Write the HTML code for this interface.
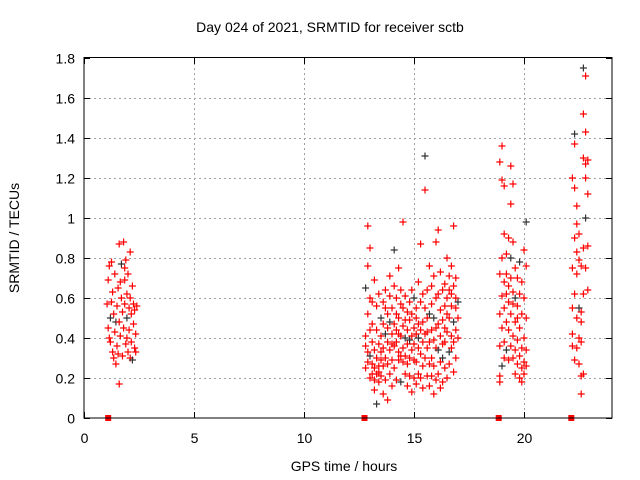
<!DOCTYPE html>
<html><head><meta charset="utf-8"><style>
html,body{margin:0;padding:0;background:#fff;}
svg{display:block;font-family:"Liberation Sans",sans-serif;}
</style></head><body>
<svg id="chart" width="640" height="480" viewBox="0 0 640 480" xmlns="http://www.w3.org/2000/svg">
<rect width="640" height="480" fill="#fff"/>
<text x="330" y="32" font-size="14" text-anchor="middle">Day 024 of 2021, SRMTID for receiver sctb</text>
<text x="344" y="471" font-size="14" text-anchor="middle">GPS time / hours</text>
<text transform="translate(19,238) rotate(-90)" font-size="14" text-anchor="middle">SRMTID / TECUs</text>
<g id="grid"></g>
<g id="axes"></g>
<g id="marks"></g>
<rect x="84" y="57.5" width="528" height="360.5" fill="none" stroke="#000" stroke-width="1"/>
</svg>
<script>
const xTicks = [0, 5, 10, 15, 20];
const xTickLabels = ["0", "5", "10", "15", "20"];
const yTicks = [0, 0.2, 0.4, 0.6, 0.8, 1, 1.2, 1.4, 1.6, 1.8];
const yTickLabels = ["0", "0.2", "0.4", "0.6", "0.8", "1", "1.2", "1.4", "1.6", "1.8"];
const zeroTimes = [1.1, 12.75, 18.85, 22.15];
const colTimes = [1.05,1.1,1.15,1.2,1.25,1.3,1.35,1.4,1.45,1.5,1.55,1.6,1.65,1.7,1.75,1.8,1.85,1.9,1.95,2.0,2.05,2.1,2.15,2.2,2.25,2.3,2.35,2.4,
12.8,12.9,13.0,13.1,13.2,13.3,13.4,13.5,13.6,13.7,13.8,13.9,14.0,14.1,14.2,14.3,14.4,14.5,14.6,14.7,14.8,14.9,15.0,15.1,15.2,15.3,15.4,15.5,15.6,15.7,15.8,15.9,16.0,16.1,16.2,16.3,16.4,16.5,16.6,16.7,16.8,16.9,17.0,
18.9,19.0,19.1,19.2,19.3,19.4,19.5,19.6,19.7,19.8,19.9,20.0,20.1,
22.2,22.3,22.4,22.5,22.6,22.7,22.8,22.9];
const colValues = [
[0.57],[0.45,0.69],[0.76,0.4],[0.5,0.38],[0.78,0.58],[0.33,0.63],[0.3,0.52],[0.43,0.72],[0.27,0.48],[0.56,0.36],[0.65,0.32],[0.17,0.87,0.48],[0.41,0.68],[0.6,0.77],[0.31,0.53],[0.88,0.45],[0.69,0.57,0.75],[0.37,0.79],[0.62,0.5,0.4],[0.33,0.72],[0.55,0.44],[0.83,0.6,0.3],[0.38,0.52],[0.29,0.66],[0.47,0.57],[0.35,0.54],[0.42,0.33],[0.56],
[0.25,0.41,0.65,0.36],[0.96,0.52,0.33,0.28,0.76],[0.85,0.44,0.2,0.6,0.31],[0.22,0.38,0.58,0.27,0.47],[0.14,0.25,0.34,0.69,0.19],[0.07,0.3,0.22,0.44,0.56],[0.18,0.26,0.37,0.62,0.23],[0.29,0.5,0.21,0.41,0.33],[0.12,0.26,0.47,0.58,0.35],[0.3,0.55,0.42,0.19,0.64],[0.09,0.38,0.27,0.52,0.45],[0.22,0.61,0.34,0.48,0.71],[0.16,0.42,0.29,0.55,0.37],[0.25,0.66,0.47,0.36,0.84],[0.38,0.52,0.19,0.44,0.6],[0.29,0.42,0.75,0.33,0.5],[0.18,0.57,0.41,0.64,0.31],[0.28,0.46,0.35,0.98,0.55],[0.22,0.4,0.31,0.61,0.49],[0.16,0.37,0.53,0.44,0.27],[0.3,0.49,0.39,0.58,0.21],[0.13,0.41,0.52,0.34,0.64],[0.2,0.45,0.29,0.6,0.37],[0.28,0.5,0.17,0.42,0.55],[0.35,0.47,0.22,0.68,0.4],[0.2,0.32,0.58,0.87,0.44],[0.26,0.48,0.38,0.62,0.15],[1.31,1.14,0.55,0.3,0.42],[0.21,0.43,0.64,0.35,0.5],[0.16,0.52,0.38,0.76,0.27],[0.3,0.44,0.57,0.21,0.66],[0.12,0.39,0.5,0.71,0.26],[0.35,0.6,0.45,0.88,0.19],[0.22,0.47,0.94,0.34,0.62],[0.28,0.54,0.41,0.73,0.15],[0.18,0.37,0.64,0.49,0.3],[0.45,0.67,0.25,0.56,0.38],[0.2,0.6,0.8,0.43,0.52],[0.33,0.71,0.5,0.64,0.27],[0.41,0.56,0.76,0.35,0.62],[0.23,0.48,0.96,0.66,0.38],[0.3,0.55,0.7,0.44,0.6],[0.5,0.4,0.58],
[0.18,0.36,0.72,1.28,0.52,0.21],[1.36,1.19,0.61,0.45,0.26,0.8],[0.55,0.68,0.38,0.92,0.3,1.16],[0.62,0.48,0.82,0.34,0.72],[0.58,0.44,0.9,0.29,0.66],[1.26,0.7,0.52,0.36,0.8,1.07],[0.63,0.41,0.88,0.3,0.57,1.17],[0.48,0.75,0.34,0.6,0.22],[0.39,0.56,0.7,0.27,0.5],[0.45,0.31,0.62,0.2,0.78],[0.35,0.52,0.25,0.68,0.18],[0.28,0.4,0.84,0.22,0.6],[0.98,0.34,0.5,0.26,0.76],
[0.36,0.55,0.75,1.2,0.42],[1.37,1.42,0.29,0.9,0.62,1.15],[0.97,0.72,0.5,1.06,0.35,0.83],[0.55,0.79,0.4,0.92,0.27],[0.21,0.48,0.76,0.12,0.53,0.38],[1.75,1.52,1.3,0.85,0.62,0.22],[1.71,1.43,1.27,1.2,0.75,1.0],[1.29,0.64,0.86,1.12]];

const NS = "http://www.w3.org/2000/svg";
const X0 = 84, X1 = 612, Y0 = 418, Y1 = 58;
function xs(v){ return X0 + (v/24)*(X1-X0); }
function ys(v){ return Y0 - (v/1.8)*(Y0-Y1); }
function mk(tag, attrs, parent){ const e=document.createElementNS(NS,tag); for(const k in attrs) e.setAttribute(k,attrs[k]); parent.appendChild(e); return e; }
const grid=document.getElementById('grid'), axes=document.getElementById('axes'), marks=document.getElementById('marks');

yTicks.forEach((t,i)=>{
  const y=Math.round(ys(t))+0.5;
  if(i>0 && i<yTicks.length-1){ const g=mk('line',{x1:X0,x2:X1,y1:y,y2:y,stroke:'#a0a0a0','stroke-dasharray':'2,3'},grid);
      }
  mk('line',{x1:X0,x2:X0+6,y1:y,y2:y,stroke:'#000'},axes);
  mk('line',{x1:X1-6,x2:X1,y1:y,y2:y,stroke:'#000'},axes);
  const tx=mk('text',{x:X0-9,y:y+5,'font-size':'14','text-anchor':'end'},axes);
  
  
  tx.textContent=yTickLabels[i];
});
xTicks.forEach((t,i)=>{
  const x=Math.round(xs(t))+0.5;
  if(i>0){ const g=mk('line',{x1:x,x2:x,y1:Y1,y2:Y0,stroke:'#a0a0a0','stroke-dasharray':'2,3'},grid);
      }
  mk('line',{x1:x,x2:x,y1:Y0,y2:Y0-6,stroke:'#000'},axes);
  mk('line',{x1:x,x2:x,y1:Y1,y2:Y1+6,stroke:'#000'},axes);
  const tx=mk('text',{x:x,y:443,'font-size':'14','text-anchor':'middle'},axes);
  
  
  tx.textContent=xTickLabels[i];
});

let n=0;
colTimes.forEach((t,ci)=>{
  colValues[ci].forEach(v=>{
    const x=xs(t), y=ys(v);
    const col = (n%11===5) ? '#333' : '#ff0000';
    const p=mk('path',{d:`M${x-3.5} ${y}H${x+3.5}M${x} ${y-3.5}V${y+3.5}`,stroke:col,'stroke-width':'1.2',fill:'none'},marks);
    
    
    n++;
  });
});
zeroTimes.forEach(t=>{
  const r=mk('rect',{x:xs(t)-3,y:Y0-3,width:6,height:6,fill:'#ff0000'},marks);
  
  
});
</script>
</body></html>
